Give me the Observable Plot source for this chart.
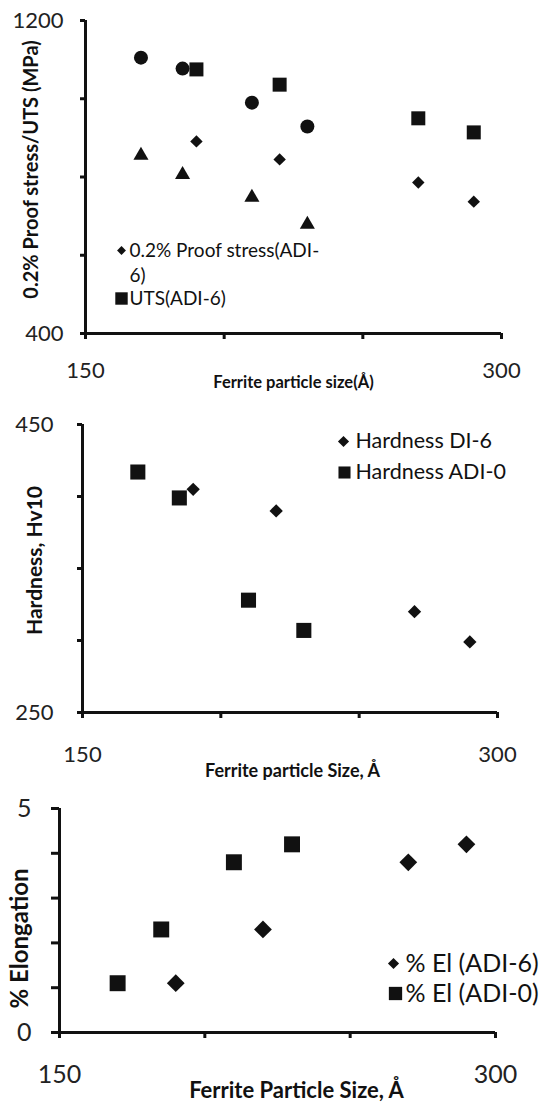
<!DOCTYPE html>
<html>
<head>
<meta charset="utf-8">
<script src="https://cdn.jsdelivr.net/npm/d3@7"></script>
<script src="https://cdn.jsdelivr.net/npm/@observablehq/plot@0.6"></script>
<style>
  html, body { margin: 0; padding: 0; background: white; }
  #wrap { position: relative; width: 542px; height: 1103px; overflow: hidden; background: white; }
  #wrap svg { position: absolute; left: 0; }
</style>
</head>
<body>
<div id="wrap"></div>
<script>
// ---- data ----
const sizeADI0 = [170, 185, 210, 230];
const sizeADI6 = [190, 220, 270, 290];
// panel 1 (MPa)
const utsADI0   = [1105, 1077, 990, 929];   // circles
const proofADI0 = [855, 806, 748, 679];     // triangles
const utsADI6   = [1075, 1036, 950, 914];   // squares
const proofADI6 = [891, 845, 786, 737];     // diamonds
// panel 2 (Hv10)
const hardADI0 = [417, 399, 328, 307];      // squares
const hardDI6  = [405, 390, 320, 299];      // diamonds
// panel 3 (% elongation)
const elADI0 = [1.1, 2.3, 3.8, 4.2];        // squares
const elADI6 = [1.1, 2.3, 3.8, 4.2];        // diamonds

const xTicks = [150, 200, 250, 300];
const yTicks1 = [400, 600, 800, 1000, 1200];
const yTicks2 = [250, 300, 350, 400, 450];
const yTicks3 = [0, 1, 2, 3, 4, 5];

const pts = (xs, ys) => xs.map((x, i) => ({x, y: ys[i]}));
const ends = (t) => (d) => (d === t[0] || d === t[t.length - 1]) ? String(d) : "";

const FONT = "Lato, 'Open Sans', sans-serif";
const INK = "#111";

function panel(cfg) {
  const cx = (cfg.mL + (542 - cfg.mR)) / 2;
  const cy = (cfg.mT + (cfg.H - cfg.mB)) / 2;
  const marks = [
    Plot.ruleY([cfg.yDomain[0]], {stroke: INK, strokeWidth: 3}),
    Plot.ruleX([150], {stroke: INK, strokeWidth: 3}),
    Plot.axisX({ticks: xTicks, tickFormat: ends(xTicks), tickSize: 6, tickPadding: cfg.xPad,
      strokeWidth: 3, stroke: INK, fontSize: cfg.tickFont, fill: "#222", label: null}),
    Plot.axisY({ticks: cfg.yTicks, tickFormat: ends(cfg.yTicks), tickSize: cfg.yTickSize, tickPadding: cfg.yPad,
      strokeWidth: 3, stroke: INK, fontSize: cfg.tickFont, fill: "#222", label: null}),
    Plot.text([cfg.yTitle], {text: d => d, frameAnchor: "middle", rotate: -90, textAnchor: "middle",
      dx: cfg.yTitlePos[0] - cx, dy: cfg.yTitlePos[1] - (cfg.top + cy),
      fontSize: cfg.yTitleFont, fontWeight: "bold", fill: INK}),
    Plot.text([cfg.xTitle], {text: d => d, frameAnchor: "middle", textAnchor: "middle",
      dx: cfg.xTitlePos[0] - cx, dy: cfg.xTitlePos[1] - (cfg.top + cy),
      fontSize: cfg.xTitleFont, fontWeight: "bold", fill: INK}),
    ...cfg.series.map(s => Plot.dot(s.data, {x: "x", y: "y", symbol: s.symbol, r: s.r, fill: INK, stroke: "none"})),
    ...cfg.legend.flatMap(l => {
      const out = [];
      if (l.symbol) out.push(Plot.dot([0], {frameAnchor: "middle", symbol: l.symbol, r: l.r, fill: INK, stroke: "none",
        dx: l.mx - cx, dy: l.y - (cfg.top + cy)}));
      out.push(Plot.text([l.text], {text: d => d, frameAnchor: "middle", textAnchor: "start",
        dx: l.tx - cx, dy: l.y - (cfg.top + cy), fontSize: cfg.legendFont, fill: INK}));
      return out;
    })
  ];
  const svg = Plot.plot({
    width: 542, height: cfg.H,
    marginLeft: cfg.mL, marginRight: cfg.mR, marginTop: cfg.mT, marginBottom: cfg.mB,
    x: {domain: [150, 300]},
    y: {domain: cfg.yDomain},
    style: {fontFamily: FONT, fontSize: cfg.tickFont + "px", color: INK, background: "transparent", overflow: "visible"},
    marks
  });
  svg.style.top = cfg.top + "px";
  document.getElementById("wrap").appendChild(svg);
}

panel({
  top: 0, H: 395, mL: 85, mR: 41, mT: 20, mB: 62,
  yDomain: [400, 1200], yTicks: yTicks1, yTickSize: 5, yPad: 17, xPad: 23, tickFont: 22,
  yTitle: "0.2% Proof stress/UTS (MPa)", yTitlePos: [31, 169], yTitleFont: 20,
  xTitle: "Ferrite particle size(Å)", xTitlePos: [293, 382], xTitleFont: 16.5,
  legendFont: 19,
  series: [
    {data: pts(sizeADI0, utsADI0), symbol: "circle", r: 7},
    {data: pts(sizeADI6, utsADI6), symbol: "square", r: 7.9},
    {data: pts(sizeADI0, proofADI0), symbol: "triangle", r: 5.6},
    {data: pts(sizeADI6, proofADI6), symbol: "diamond2", r: 5.6}
  ],
  legend: [
    {symbol: "diamond2", r: 4, mx: 121, tx: 129, y: 250, text: "0.2% Proof stress(ADI-"},
    {tx: 129, y: 275, text: "6)"},
    {symbol: "square", r: 7, mx: 121, tx: 129, y: 298, text: "UTS(ADI-6)"}
  ]
});

panel({
  top: 395, H: 390, mL: 82, mR: 45, mT: 29, mB: 73,
  yDomain: [250, 450], yTicks: yTicks2, yTickSize: 5, yPad: 24, xPad: 28, tickFont: 22,
  yTitle: "Hardness, Hv10", yTitlePos: [35, 560], yTitleFont: 21,
  xTitle: "Ferrite particle Size, Å", xTitlePos: [292, 771], xTitleFont: 18,
  legendFont: 21.5,
  series: [
    {data: pts(sizeADI0, hardADI0), symbol: "square", r: 8.5},
    {data: pts(sizeADI6, hardDI6), symbol: "diamond2", r: 6}
  ],
  legend: [
    {symbol: "diamond2", r: 5, mx: 343, tx: 355, y: 441, text: "Hardness DI-6"},
    {symbol: "square", r: 6.8, mx: 344, tx: 355, y: 472, text: "Hardness ADI-0"}
  ]
});

panel({
  top: 785, H: 318, mL: 59, mR: 47, mT: 23, mB: 71,
  yDomain: [0, 5], yTicks: yTicks3, yTickSize: 8, yPad: 20, xPad: 27, tickFont: 25,
  yTitle: "% Elongation", yTitlePos: [20, 938], yTitleFont: 24,
  xTitle: "Ferrite Particle Size, Å", xTitlePos: [296, 1090], xTitleFont: 22,
  legendFont: 25,
  series: [
    {data: pts(sizeADI0, elADI0), symbol: "square", r: 9},
    {data: pts(sizeADI6, elADI6), symbol: "diamond2", r: 8}
  ],
  legend: [
    {symbol: "diamond2", r: 5, mx: 393, tx: 405, y: 963, text: "% El (ADI-6)"},
    {symbol: "square", r: 7.5, mx: 395, tx: 405, y: 993, text: "% El (ADI-0)"}
  ]
});
</script>
</body>
</html>
